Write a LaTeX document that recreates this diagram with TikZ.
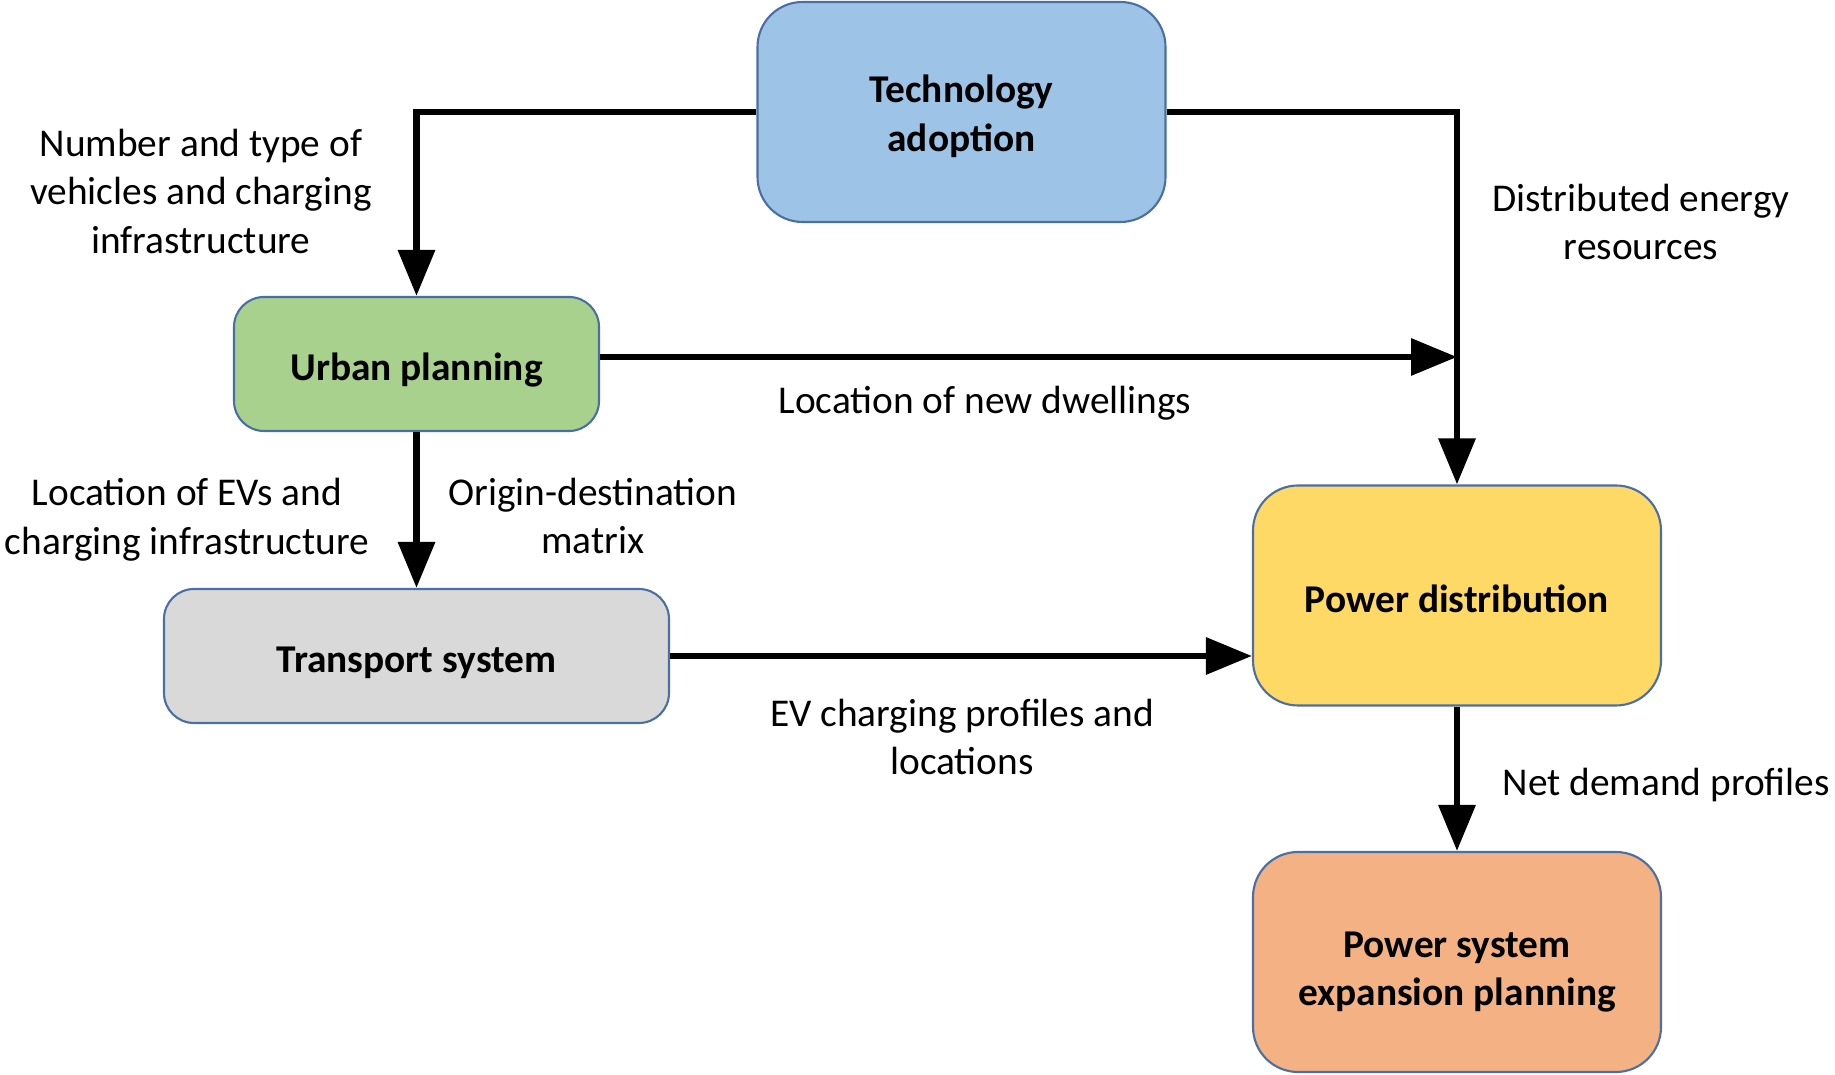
\documentclass[tikz,border=0pt]{standalone}
\usepackage{fontspec}
\setmainfont{Carlito}
\usetikzlibrary{arrows.meta,positioning,calc}

\definecolor{techblue}{HTML}{9DC3E6}
\definecolor{urbgreen}{HTML}{A9D18E}
\definecolor{trgrey}{HTML}{D9D9D9}
\definecolor{pdyellow}{HTML}{FFD966}
\definecolor{exorange}{HTML}{F4B183}
\definecolor{boxline}{HTML}{4A6FA5}

% strut so that box text sits as in the original
\newcommand{\boxstrut}{\rule[-3pt]{0pt}{15.5pt}}

\begin{document}
\begin{tikzpicture}[
      box/.style   = {rectangle, draw=boxline, line width=0.6pt,
                      align=center, font=\fontsize{11.2}{13.8}\selectfont\bfseries},
      bigbox/.style = {box, rounded corners=0.45cm,
                      minimum width=4.08cm, minimum height=2.2cm},
      smallbox/.style = {box, rounded corners=0.3cm, minimum height=1.34cm},
      arrow/.style = {-{Triangle[length=0.46cm,width=0.36cm]}, line width=1.85pt, black},
      lbl/.style   = {align=center, font=\fontsize{11.2}{13.8}\selectfont, inner sep=0pt}
    ]
    \useasboundingbox (0,0) rectangle (18.35,-10.75);

    \node[bigbox, fill=techblue] (tech) at (9.615,-1.12) {\rule{0pt}{10.2pt}Technology\\adoption};
    \node[smallbox, fill=urbgreen, minimum width=3.65cm] (urban) at (4.165,-3.64) {\boxstrut Urban planning};
    \node[smallbox, fill=trgrey, minimum width=5.05cm] (trans) at (4.165,-6.56) {\boxstrut Transport system};
    \node[bigbox, fill=pdyellow] (power) at (14.57,-5.955) {\boxstrut Power distribution};
    \node[bigbox, fill=exorange] (expan) at (14.57,-9.62) {\rule{0pt}{12.9pt}Power system\\expansion planning};

    \node[lbl] (l1) at (2.01,-1.91) {Number and type of\\vehicles and charging\\infrastructure};
    \node[lbl] (l2) at (16.41,-2.22) {Distributed energy\\resources};
    \node[lbl] (l3) at (9.85,-4.035) {Location of new dwellings};
    \node[lbl] (l4) at (1.87,-5.195) {Location of EVs and\\charging infrastructure};
    \node[lbl] (l5) at (5.93,-5.16) {Origin-destination\\matrix};
    \node[lbl] (l6) at (9.62,-7.37) {EV charging profiles and\\locations};
    \node[lbl, right=0.45cm of $(power.south)!0.5!(expan.north)$, yshift=-0.06cm] (l7) {Net demand profiles};

    \coordinate (join) at ([yshift=0.07cm]urban.east -| power.north);

    \draw[arrow] (tech.west)  -| (urban.north);
    \draw[arrow] (tech.east)  -| (power.north);
    \draw[arrow] ([yshift=0.07cm]urban.east) -- (join);
    \draw[arrow] (urban.south) -- (trans.north -| urban.south);
    \draw[arrow] (trans.east) -- (trans.east -| power.west);
    \draw[arrow] (power.south) -- (expan.north);
  \end{tikzpicture}
\end{document}
